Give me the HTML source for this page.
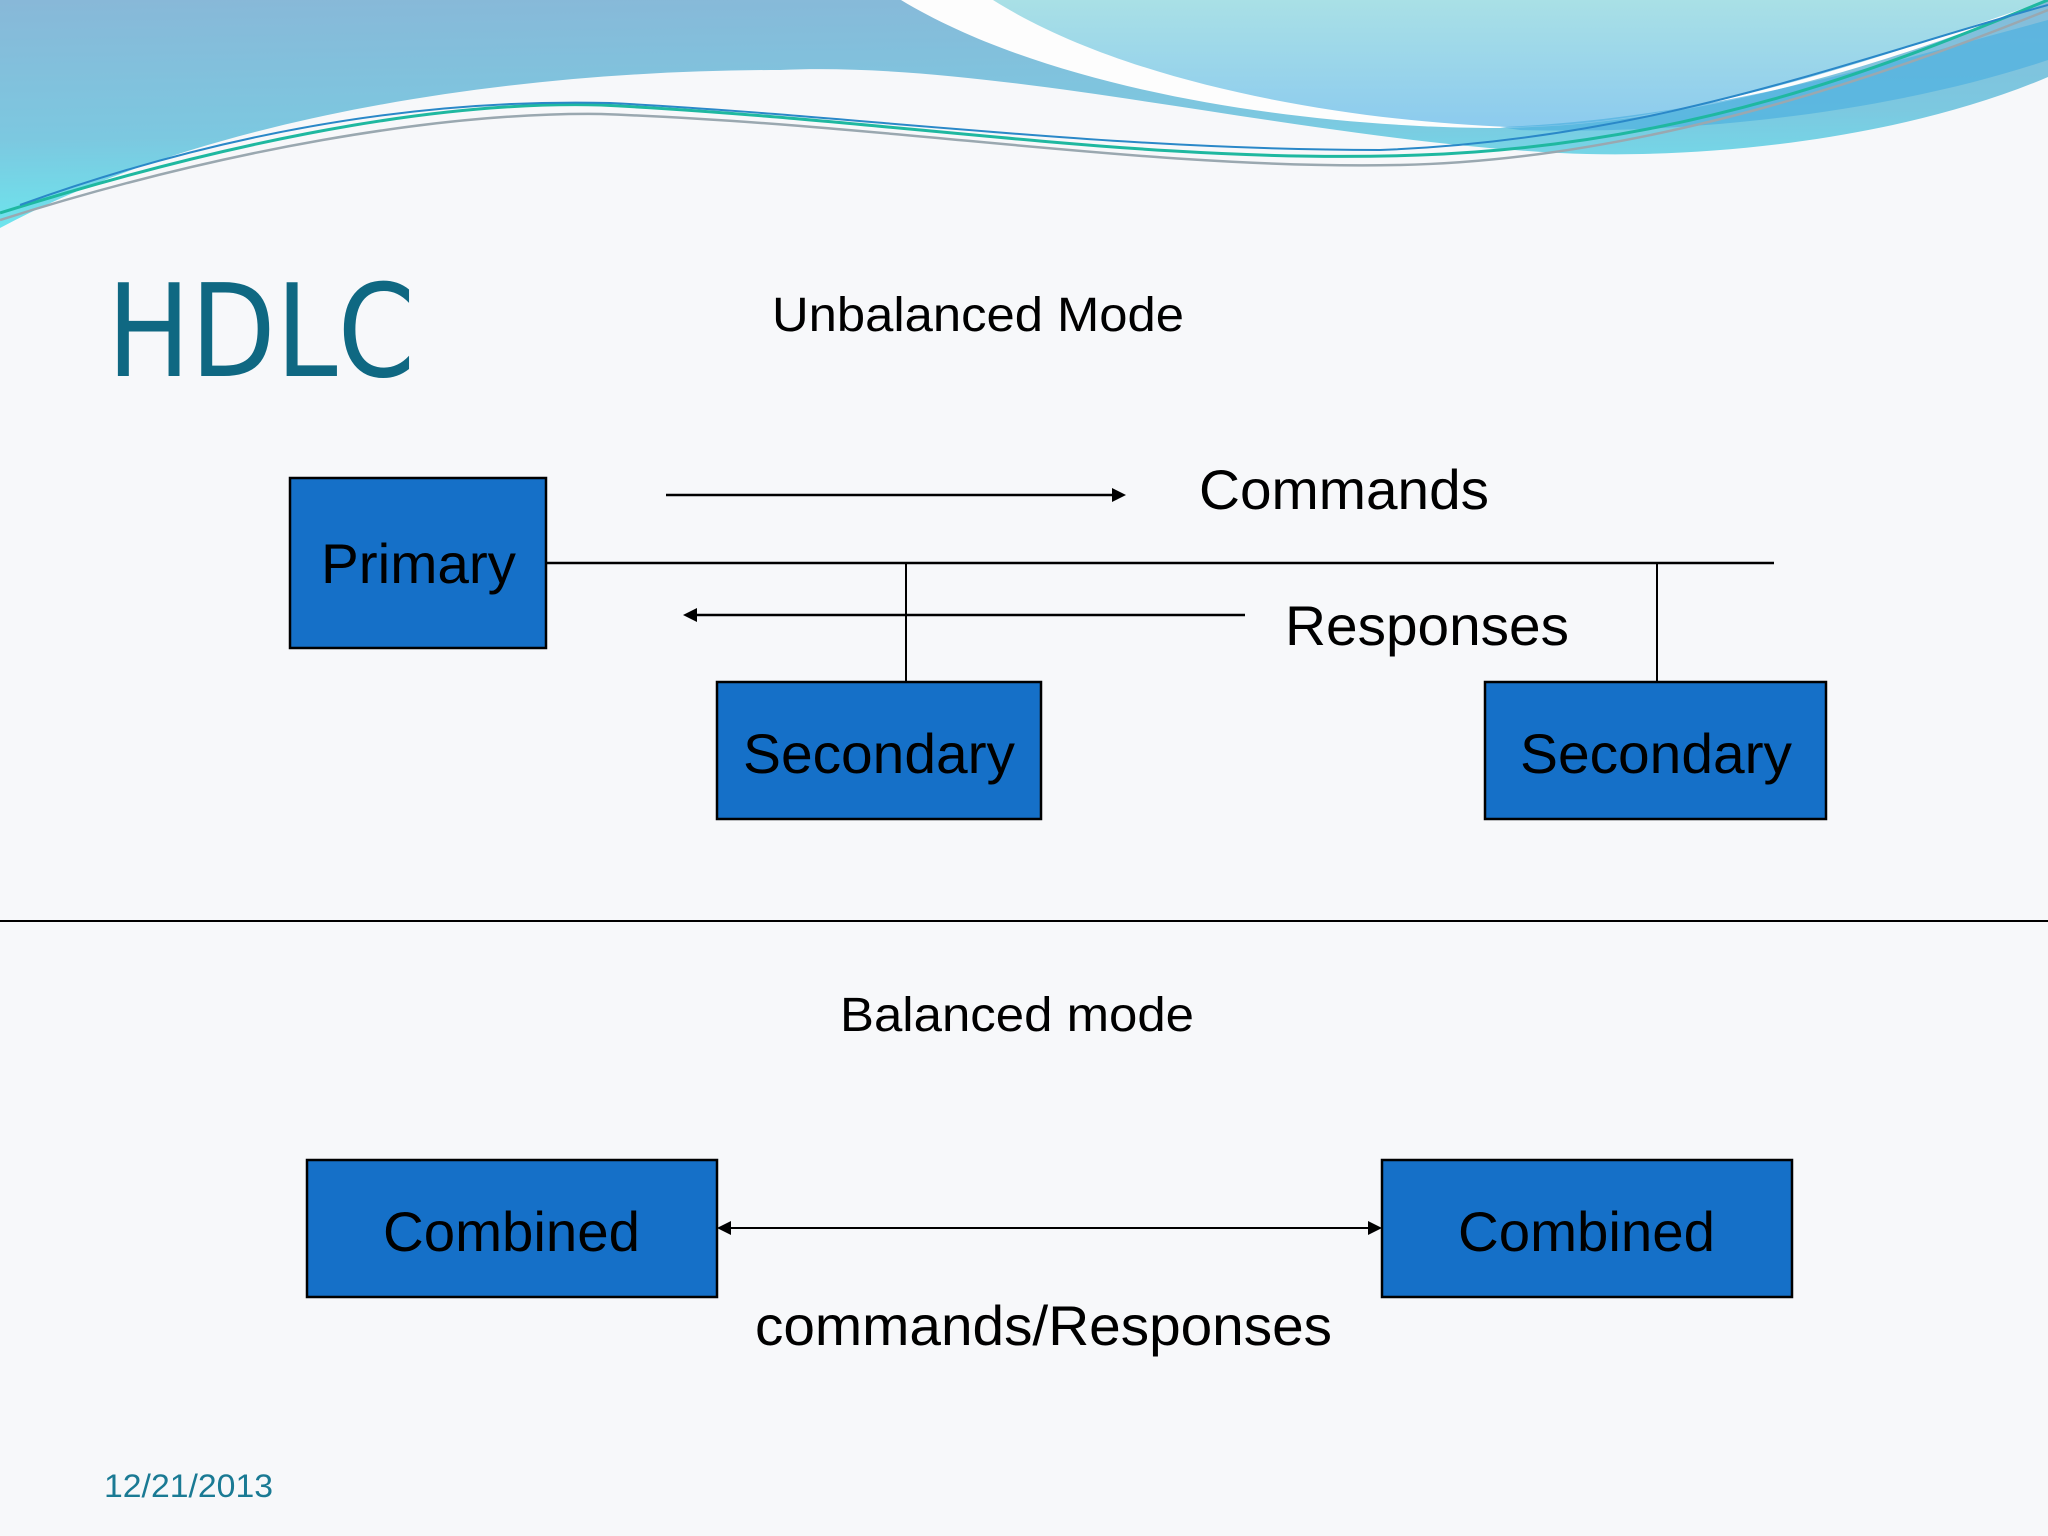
<!DOCTYPE html>
<html><head><meta charset="utf-8"><style>
html,body{margin:0;padding:0;background:#f7f8fa;}
svg{display:block;}
text{font-family:"Liberation Sans",Arial,sans-serif;}
</style></head><body>
<svg width="2048" height="1536" viewBox="0 0 2048 1536" xmlns="http://www.w3.org/2000/svg">
<defs>
<linearGradient id="g1" x1="0" y1="0" x2="0.15" y2="1">
<stop offset="0" stop-color="#88b8d8"/><stop offset="0.6" stop-color="#7cc8e0"/><stop offset="1" stop-color="#6ce6ee"/>
</linearGradient>
<linearGradient id="g2" x1="0" y1="0" x2="0" y2="1">
<stop offset="0" stop-color="#a9e0e6"/><stop offset="1" stop-color="#8ccbee"/>
</linearGradient>
</defs>
<rect width="2048" height="1536" fill="#f7f8fa"/>
<path d="M0 0 H2048 V77 C1900 140 1700 160 1560 153 C1300 140 1000 60 780 70 C500 70 200 120 0 228 Z" fill="url(#g1)"/>
<path d="M901 0 C1050 90 1300 128 1502 128 C1700 125 1900 60 2048 0 Z" fill="#fdfdfd"/>
<path d="M993 0 C1120 80 1330 120 1510 127 C1700 125 1900 50 2048 0 Z" fill="url(#g2)"/>
<path d="M1500 127 C1700 120 1900 60 2048 20 V60 C1900 110 1700 135 1520 130 Z" fill="#4fb0e0" opacity="0.7"/>
<path d="M0 213 C200 150 420 100 601 105 C900 120 1150 165 1420 155 C1700 145 1900 60 2048 0" fill="none" stroke="#1fb8a0" stroke-width="3"/>
<path d="M0 220 C220 150 440 112 601 114 C900 125 1150 170 1400 165 C1650 160 1900 70 2048 10" fill="none" stroke="#9aa8b0" stroke-width="2.5"/>
<path d="M20 205 C200 140 400 98 610 103 C850 115 1100 150 1380 150 C1650 140 1850 60 2048 5" fill="none" stroke="#2a88c8" stroke-width="2"/>

<text x="107" y="376" font-size="128" fill="#0f6882" textLength="308" lengthAdjust="spacingAndGlyphs" style="font-family:'DejaVu Sans','Liberation Sans',sans-serif">HDLC</text>
<text x="772" y="331" font-size="48" fill="#000" textLength="412" lengthAdjust="spacingAndGlyphs">Unbalanced Mode</text>

<g stroke="#000" stroke-width="2.5" fill="#1570c8">
<rect x="290" y="478" width="256" height="170"/>
<rect x="717" y="682" width="324" height="137"/>
<rect x="1485" y="682" width="341" height="137"/>
<rect x="307" y="1160" width="410" height="137"/>
<rect x="1382" y="1160" width="410" height="137"/>
</g>
<g stroke="#000" stroke-width="2.5">
<line x1="546" y1="563" x2="1774" y2="563"/>
<line x1="906" y1="563" x2="906" y2="682" stroke-width="2"/>
<line x1="1657" y1="563" x2="1657" y2="682" stroke-width="2"/>
<line x1="666" y1="495" x2="1115" y2="495"/>
<line x1="695" y1="615" x2="1245" y2="615"/>
<line x1="0" y1="921" x2="2048" y2="921" stroke-width="2"/>
<line x1="728" y1="1228" x2="1371" y2="1228" stroke-width="2"/>
</g>
<g fill="#000">
<path d="M1126 495 L1112 488 L1112 502 Z"/>
<path d="M683 615 L697 608 L697 622 Z"/>
<path d="M717 1228 L731 1221 L731 1235 Z"/>
<path d="M1382 1228 L1368 1221 L1368 1235 Z"/>
</g>
<g font-size="56" fill="#000">
<text x="1199" y="509" textLength="290" lengthAdjust="spacingAndGlyphs">Commands</text>
<text x="1285" y="645" textLength="284" lengthAdjust="spacingAndGlyphs">Responses</text>
<text x="321" y="583" textLength="195" lengthAdjust="spacingAndGlyphs">Primary</text>
<text x="743" y="773" textLength="272" lengthAdjust="spacingAndGlyphs">Secondary</text>
<text x="1520" y="773" textLength="272" lengthAdjust="spacingAndGlyphs">Secondary</text>
<text x="383" y="1251" textLength="257" lengthAdjust="spacingAndGlyphs">Combined</text>
<text x="1458" y="1251" textLength="257" lengthAdjust="spacingAndGlyphs">Combined</text>
<text x="755" y="1345" textLength="577" lengthAdjust="spacingAndGlyphs">commands/Responses</text>
</g>
<text x="840" y="1031" font-size="48" fill="#000" textLength="354" lengthAdjust="spacingAndGlyphs">Balanced mode</text>
<text x="104" y="1497" font-size="32" fill="#1a7a94" textLength="169" lengthAdjust="spacingAndGlyphs">12/21/2013</text>
</svg>
</body></html>
